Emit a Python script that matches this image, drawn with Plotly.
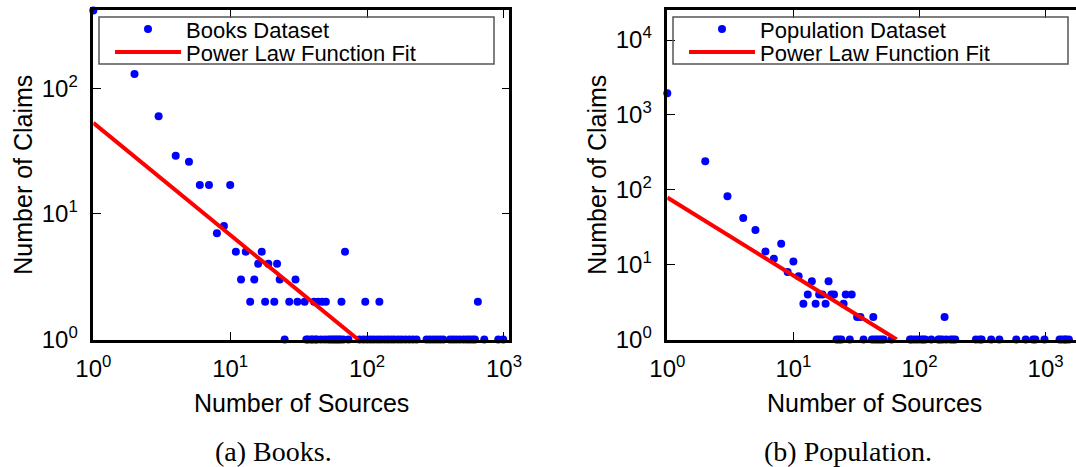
import plotly.graph_objects as go

# ---- Books dataset: number of sources vs number of claims ----
books_x = [1, 2, 3, 4, 5, 6, 7, 8, 9, 10, 11, 12, 13, 14, 15, 16, 17, 18, 19,
           21, 22, 23, 27, 30, 31, 35, 41, 44, 47, 50, 65, 69, 97, 123, 645]
books_y = [415, 130, 60, 29, 26, 17, 17, 7, 8, 17, 5, 3, 5, 2, 3, 4, 5, 2, 4,
           2, 4, 3, 2, 3, 2, 2, 2, 2, 2, 2, 2, 5, 2, 2, 2]
books_single_x = [25, 36, 37, 39, 40, 42, 43, 46, 49, 52, 54, 56, 58, 60, 62, 64,
                  67, 73, 88, 94, 100, 106, 112, 119, 126, 134, 142, 150, 158, 168,
                  178, 190, 203, 216, 230, 272, 288, 305, 323, 341, 360, 403, 425,
                  448, 475, 506, 534, 560, 588, 614, 718, 908, 988, 1100]
books_fit_x = [1, 86]
books_fit_y = [53, 1]

# ---- Population dataset ----
pop_x = [1, 2, 3, 4, 5, 6, 7, 8, 9, 10, 11, 12, 13, 14, 15, 16, 17, 18, 19, 20,
         21, 25, 26, 29, 32, 34, 43, 158]
pop_y = [1950, 240, 82, 42, 29, 15, 12, 19, 8, 11, 7, 3, 4, 6, 3, 4, 4, 3, 6, 4,
         4, 3, 4, 4, 2, 2, 2, 2]
pop_single_x = [22, 23, 24, 28, 36, 42, 44, 46, 48, 50, 52, 60, 84, 87, 92, 97,
                103, 107, 111, 124, 141, 145, 152, 163, 176, 184, 192, 280, 300,
                311, 370, 430, 585, 695, 795, 830, 980, 1290, 1350, 1420, 1450, 1530]
pop_fit_x = [1, 66]
pop_fit_y = [79, 1]

tick_vals = [1, 10, 100, 1000, 10000]
tick_text = ["10<sup>0</sup>", "10<sup>1</sup>", "10<sup>2</sup>",
             "10<sup>3</sup>", "10<sup>4</sup>"]

W, H = 1076, 467
SANS = "Liberation Sans, Arial, sans-serif"
SERIF = "Liberation Serif, Times New Roman, serif"
BLUE = "#0000ff"
RED = "#ff0000"


def px(x):
    return x / W


def py(y):
    return 1 - y / H


fig = go.Figure()

panels = [
    dict(name="Books Dataset", xs=books_x, ys=books_y, ones=books_single_x,
         fx=books_fit_x, fy=books_fit_y, xa="x", ya="y",
         lg=("legend", "legend2"), box=(99, 494), lx=110),
    dict(name="Population Dataset", xs=pop_x, ys=pop_y, ones=pop_single_x,
         fx=pop_fit_x, fy=pop_fit_y, xa="x2", ya="y2",
         lg=("legend3", "legend4"), box=(673, 1068), lx=684),
]

for p in panels:
    all_x = p["xs"] + p["ones"]
    all_y = p["ys"] + [1] * len(p["ones"])
    fig.add_trace(go.Scatter(
        x=all_x, y=all_y, mode="markers", name=p["name"],
        marker=dict(color=BLUE, size=8, line=dict(width=0)),
        xaxis=p["xa"], yaxis=p["ya"], cliponaxis=False, legend=p["lg"][0]))
    fig.add_trace(go.Scatter(
        x=p["fx"], y=p["fy"], mode="lines", name="Power Law Function Fit",
        line=dict(color=RED, width=4),
        xaxis=p["xa"], yaxis=p["ya"], legend=p["lg"][1]))

axis_common = dict(
    type="log", showgrid=False, zeroline=False, showline=True, automargin=False,
    linecolor="black", linewidth=2.5, ticks="inside", ticklen=8,
    tickwidth=1, tickcolor="black", tickvals=tick_vals, ticktext=tick_text,
    tickfont=dict(family=SANS, size=24, color="black"),
)

fig.update_layout(
    width=W, height=H, margin=dict(l=0, r=0, t=0, b=0, autoexpand=False),
    paper_bgcolor="white", plot_bgcolor="white", showlegend=True,
    xaxis=dict(axis_common, domain=[px(93.3), px(509.3)], range=[0, 3.039],
               mirror="ticks", anchor="y", ticklabelstandoff=6),
    yaxis=dict(axis_common, domain=[py(339.5), py(10)], range=[0, 2.623],
               mirror="ticks", anchor="x", ticklabelstandoff=8),
    xaxis2=dict(axis_common, domain=[px(667.3), 1.0], range=[0, 3.241],
                mirror="ticks", anchor="y2", ticklabelstandoff=6),
    yaxis2=dict(axis_common, domain=[py(339.5), py(10)], range=[0, 4.402],
                mirror=False, anchor="x2", ticklabelstandoff=8),
)

legend_style = dict(
    bgcolor="rgba(0,0,0,0)", borderwidth=0, xanchor="left", yanchor="middle",
    font=dict(family=SANS, size=22, color="black"), itemwidth=66,
    itemclick=False, itemdoubleclick=False,
)
legends = {}
for p in panels:
    legends[p["lg"][0]] = dict(legend_style, x=px(p["lx"]), y=py(29.3))
    legends[p["lg"][1]] = dict(legend_style, x=px(p["lx"]), y=py(52.3))
fig.update_layout(**legends)

# legend frames
for p in panels:
    x0, x1 = p["box"]
    fig.add_shape(type="rect", xref="paper", yref="paper",
                  x0=px(x0), x1=px(x1), y0=py(64), y1=py(17),
                  line=dict(color="#555555", width=1.5), fillcolor="rgba(0,0,0,0)")

# axis titles and captions
annotations = [
    dict(text="Number of Sources", x=px(301.3), y=py(403)),
    dict(text="Number of Sources", x=px(874.5), y=py(403)),
    dict(text="Number of Claims", x=px(23), y=py(174.7), textangle=-90),
    dict(text="Number of Claims", x=px(597), y=py(174.7), textangle=-90),
]
for a in annotations:
    fig.add_annotation(xref="paper", yref="paper", showarrow=False,
                       xanchor="center", yanchor="middle",
                       font=dict(family=SANS, size=25, color="black"), **a)

captions = [("(a) Books.", 273), ("(b) Population.", 847.7)]
for text, cx in captions:
    fig.add_annotation(text=text, xref="paper", yref="paper", x=px(cx), y=py(451),
                       showarrow=False, xanchor="center", yanchor="middle",
                       font=dict(family=SERIF, size=28, color="black"))

fig.write_html("out.html")
